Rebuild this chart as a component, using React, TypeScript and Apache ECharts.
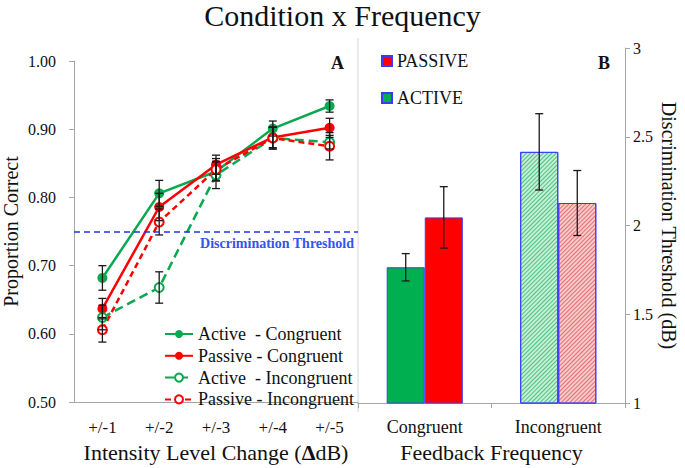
import React, { useEffect, useRef } from "react";
import * as echarts from "echarts";

const levels = ["+/-1", "+/-2", "+/-3", "+/-4", "+/-5"];
const activeCongruent = [0.682, 0.806, 0.838, 0.901, 0.934];
const passiveCongruent = [0.637, 0.786, 0.848, 0.888, 0.902];
const activeIncongruent = [0.624, 0.668, 0.833, 0.887, 0.881];
const passiveIncongruent = [0.606, 0.764, 0.841, 0.887, 0.875];
const activeCongruentErr = [0.018, 0.019, 0.014, 0.011, 0.009];
const passiveCongruentErr = [0.015, 0.02, 0.014, 0.015, 0.014];
const activeIncongruentErr = [0.018, 0.023, 0.02, 0.016, 0.01];
const passiveIncongruentErr = [0.018, 0.019, 0.016, 0.016, 0.02];
const thresholdLevel = 0.75;

const feedbackCats = ["Congruent", "Incongruent"];
const activeThreshold = [1.765, 2.415];
const passiveThreshold = [2.046, 2.127];
const activeThresholdErr = [0.077, 0.215];
const passiveThresholdErr = [0.173, 0.183];

const lineNames = [
  "Active  - Congruent",
  "Passive - Congruent",
  "Active  - Incongruent",
  "Passive - Incongruent",
];

const GREEN = "#0aa84f";
const RED = "#ff0000";
const BAR_GREEN = "#00b050";
const BORDER_BLUE = "#3a3aff";
const FONT = "Liberation Serif";
const AXIS_GRAY = "#a6a6a6";
const BAR_FRAC = 0.285;

export default function App() {
  const ref = useRef<HTMLDivElement>(null);

  useEffect(() => {
    document.body.style.margin = "0";
    if (!ref.current) return;
    const chart = echarts.init(ref.current, null, { renderer: "svg" });

    const lineErrData: number[][] = [];
    const pairs: [number[], number[]][] = [
      [activeCongruent, activeCongruentErr],
      [passiveCongruent, passiveCongruentErr],
      [activeIncongruent, activeIncongruentErr],
      [passiveIncongruent, passiveIncongruentErr],
    ];
    pairs.forEach(([vals, errs]) => {
      vals.forEach((v, i) => lineErrData.push([i, v - errs[i], v + errs[i]]));
    });

    const barErrData: number[][] = [];
    activeThreshold.forEach((v, i) =>
      barErrData.push([i, v - activeThresholdErr[i], v + activeThresholdErr[i], -1])
    );
    passiveThreshold.forEach((v, i) =>
      barErrData.push([i, v - passiveThresholdErr[i], v + passiveThresholdErr[i], 1])
    );

    const drawErr = (api: any, dx: number) => {
      const x = api.value(0);
      const lo = api.coord([x, api.value(1)]);
      const hi = api.coord([x, api.value(2)]);
      const cx = lo[0] + dx;
      const cw = 4;
      const st = { stroke: "#1a1a1a", lineWidth: 1.3 };
      return {
        type: "group",
        children: [
          { type: "line", shape: { x1: cx, y1: lo[1], x2: cx, y2: hi[1] }, style: st },
          { type: "line", shape: { x1: cx - cw, y1: lo[1], x2: cx + cw, y2: lo[1] }, style: st },
          { type: "line", shape: { x1: cx - cw, y1: hi[1], x2: cx + cw, y2: hi[1] }, style: st },
        ],
      };
    };

    const hatch = (color: string) => ({
      symbol: "rect",
      symbolSize: 1,
      dashArrayX: [1, 0],
      dashArrayY: [1, 2],
      rotation: -Math.PI / 4,
      color,
    });

    const lineSeries = (
      name: string,
      data: number[],
      color: string,
      dashed: boolean,
      open: boolean,
      dash: number[]
    ) => ({
      name,
      type: "line",
      xAxisIndex: 0,
      yAxisIndex: 0,
      data,
      symbol: open ? "emptyCircle" : "circle",
      symbolSize: open ? 9 : 10,
      itemStyle: { color, borderWidth: open ? 1.5 : 0, borderColor: color },
      lineStyle: { color, width: 2.5, type: dashed ? dash : "solid" },
      z: 3,
    });

    const option: any = {
      animation: false,
      textStyle: { fontFamily: FONT },
      title: {
        text: "Condition x Frequency",
        left: "center",
        top: 0,
        padding: 0,
        textStyle: { fontFamily: FONT, fontSize: 30, fontWeight: "normal", color: "#111" },
      },
      grid: [
        { left: 72, top: 61, width: 286, bottom: 59 },
        { left: 358, top: 48, width: 267, bottom: 59 },
      ],
      legend: [
        {
          data: lineNames,
          orient: "vertical",
          left: 164,
          top: 325,
          padding: 0,
          itemWidth: 28,
          itemHeight: 10,
          itemGap: 3.8,
          textStyle: { fontFamily: FONT, fontSize: 18, color: "#111", lineHeight: 18 },
        },
        {
          data: ["PASSIVE", "ACTIVE"],
          orient: "vertical",
          left: 381,
          top: 52,
          padding: 0,
          icon: "rect",
          itemWidth: 10,
          itemHeight: 10,
          itemGap: 19,
          textStyle: { fontFamily: FONT, fontSize: 18, color: "#111" },
        },
      ],
      xAxis: [
        {
          type: "category",
          gridIndex: 0,
          data: levels,
          axisLine: { lineStyle: { color: AXIS_GRAY } },
          axisTick: { show: false },
          axisLabel: { fontFamily: FONT, fontSize: 17, color: "#111", margin: 17 },
          name: "{a|Intensity Level Change (}{b|Δ}{a|dB)}",
          nameLocation: "middle",
          nameGap: 33,
          nameTextStyle: {
            rich: {
              a: { fontFamily: FONT, fontSize: 22, color: "#111" },
              b: { fontFamily: FONT, fontSize: 22, color: "#111", fontWeight: "bold" },
            },
          },
        },
        {
          type: "category",
          gridIndex: 1,
          data: feedbackCats,
          axisLine: { lineStyle: { color: AXIS_GRAY } },
          axisTick: { show: true, length: 5, lineStyle: { color: AXIS_GRAY } },
          axisLabel: { fontFamily: FONT, fontSize: 18, color: "#111", margin: 15 },
          name: "Feedback Frequency",
          nameLocation: "middle",
          nameGap: 33,
          nameTextStyle: { fontFamily: FONT, fontSize: 22, color: "#111" },
        },
      ],
      yAxis: [
        {
          type: "value",
          gridIndex: 0,
          min: 0.5,
          max: 1.0,
          interval: 0.1,
          splitLine: { show: false },
          axisLine: { show: true, lineStyle: { color: AXIS_GRAY } },
          axisTick: { show: true, length: 5, lineStyle: { color: AXIS_GRAY } },
          axisLabel: {
            fontFamily: FONT,
            fontSize: 16,
            color: "#111",
            margin: 18,
            formatter: (v: number) => v.toFixed(2),
          },
          name: "Proportion Correct",
          nameLocation: "middle",
          nameGap: 53,
          nameTextStyle: { fontFamily: FONT, fontSize: 20, color: "#111" },
        },
        {
          type: "value",
          gridIndex: 1,
          position: "right",
          min: 1,
          max: 3,
          interval: 0.5,
          splitLine: { show: false },
          axisLine: { show: true, lineStyle: { color: AXIS_GRAY } },
          axisTick: { show: true, length: 5, lineStyle: { color: AXIS_GRAY } },
          axisLabel: { fontFamily: FONT, fontSize: 16, color: "#111", margin: 8 },
          name: "Discrimination Threshold (dB)",
          nameLocation: "middle",
          nameRotate: -90,
          nameGap: 34,
          nameTextStyle: { fontFamily: FONT, fontSize: 20, color: "#111" },
        },
      ],
      series: [
        {
          ...lineSeries(lineNames[0], activeCongruent, GREEN, false, false, []),
          markLine: {
            silent: true,
            symbol: "none",
            lineStyle: { color: "#2233ee", type: [6, 4], width: 1.6 },
            label: {
              show: true,
              position: "insideEndBottom",
              formatter: "Discrimination Threshold",
              color: "#3355ee",
              fontFamily: FONT,
              fontWeight: "bold",
              fontSize: 14,
              distance: [4, 5],
            },
            data: [{ yAxis: thresholdLevel }],
          },
        },
        lineSeries(lineNames[1], passiveCongruent, RED, false, false, []),
        lineSeries(lineNames[2], activeIncongruent, GREEN, true, true, [9, 5]),
        lineSeries(lineNames[3], passiveIncongruent, RED, true, true, [6, 4]),
        {
          type: "custom",
          xAxisIndex: 0,
          yAxisIndex: 0,
          data: lineErrData,
          encode: { x: 0, y: [1, 2] },
          renderItem: (params: any, api: any) => drawErr(api, 0),
          z: 4,
          silent: true,
        },
        {
          name: "ACTIVE",
          type: "bar",
          xAxisIndex: 1,
          yAxisIndex: 1,
          barWidth: BAR_FRAC * 100 + "%",
          barGap: "0%",
          itemStyle: { color: BAR_GREEN, borderColor: BORDER_BLUE, borderWidth: 1 },
          data: activeThreshold.map((v, i) =>
            i === 0
              ? v
              : { value: v, itemStyle: { color: "#c4efd6", decal: hatch("rgba(40,180,100,0.75)") } }
          ),
        },
        {
          name: "PASSIVE",
          type: "bar",
          xAxisIndex: 1,
          yAxisIndex: 1,
          barWidth: BAR_FRAC * 100 + "%",
          barGap: "0%",
          itemStyle: { color: RED, borderColor: BORDER_BLUE, borderWidth: 1 },
          data: passiveThreshold.map((v, i) =>
            i === 0
              ? v
              : { value: v, itemStyle: { color: "#f7caca", decal: hatch("rgba(220,80,80,0.75)") } }
          ),
        },
        {
          type: "custom",
          xAxisIndex: 1,
          yAxisIndex: 1,
          data: barErrData,
          encode: { x: 0, y: [1, 2] },
          renderItem: (params: any, api: any) => {
            const side = api.value(3);
            const band = api.size([1, 0])[0];
            return drawErr(api, (side * band * BAR_FRAC) / 2);
          },
          z: 4,
          silent: true,
        },
      ],
      graphic: [
        {
          type: "line",
          shape: { x1: 358, y1: 38, x2: 358, y2: 412 },
          style: { stroke: "#d6d6d6", lineWidth: 1 },
          silent: true,
        },
        {
          type: "text",
          x: 331,
          y: 54,
          style: { text: "A", font: `bold 18px ${FONT}`, fill: "#111" },
        },
        {
          type: "text",
          x: 598,
          y: 54,
          style: { text: "B", font: `bold 18px ${FONT}`, fill: "#111" },
        },
      ],
    };

    chart.setOption(option);
    return () => chart.dispose();
  }, []);

  return <div ref={ref} style={{ width: 685, height: 468 }} />;
}
